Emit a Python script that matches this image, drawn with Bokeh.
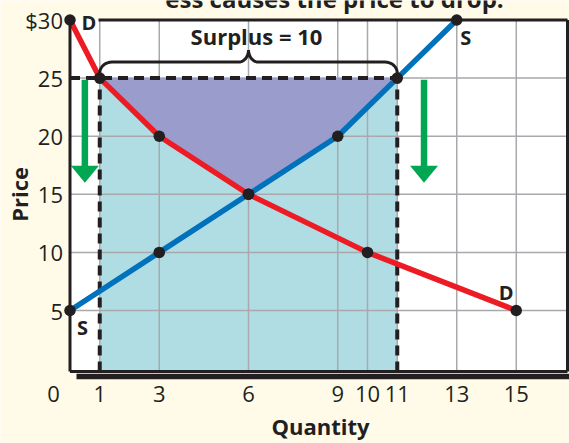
import numpy as np
from bokeh.plotting import figure
from bokeh.models import FixedTicker, Label, Range1d
from bokeh.embed import file_html
from bokeh.resources import INLINE

# ---------------- data ----------------
demand_q = [0, 1, 3, 6, 10, 15]
demand_p = [30, 25, 20, 15, 10, 5]
supply_q = [0, 3, 6, 9, 11, 13]
supply_p = [5, 10, 15, 20, 25, 30]
price_floor = 25
eq_q, eq_p = 6, 15
qd_floor = 1
qs_floor = 11
surplus = qs_floor - qd_floor
x_ticks = [1, 3, 6, 9, 10, 11, 13, 15]
y_ticks = [5, 10, 15, 20, 25, 30]
y_tick_overrides = {30: "$30"}
arrow_x = [0.5, 11.9]
arrow_top = 24.85
arrow_tip = 16
title_text = "ess causes the price to drop."

# ---------------- layout / style ----------------
W, H = 569, 443
PX_X, PX_Y = 29.75, 11.62          # pixels per unit
X0_PX, Y30_PX = 69.5, 19.5         # where q=0 and p=30 sit on the canvas
x_start = -X0_PX / PX_X
x_end = x_start + W / PX_X
y_end = 30 + Y30_PX / PX_Y
y_start = y_end - H / PX_Y
x_right = (567 - X0_PX) / PX_X     # right border of the plot box
y_white_bottom = 30 - 351.5 / PX_Y # bottom border of the plot box
axis_y = 30 - 359.5 / PX_Y

FONT = "Open Sans"
CREAM = "#fffbe8"
INK = "#231f20"
RED = "#ed1c24"
BLUE = "#0072bc"
GREEN = "#00a651"
LIGHTBLUE = "#b0dde4"
PURPLE = "#9a9dcc"
GRID = "#a7a9ac"

p = figure(width=W, height=H, output_backend="svg", toolbar_location=None,
           x_range=Range1d(x_start, x_end), y_range=Range1d(y_start, y_end),
           min_border=0, min_border_left=0, min_border_right=0,
           min_border_top=0, min_border_bottom=0)
p.background_fill_color = CREAM
p.border_fill_color = CREAM
p.outline_line_color = None
p.xgrid.visible = False
p.ygrid.visible = False

for ax, ticks in ((p.xaxis, x_ticks), (p.yaxis, y_ticks)):
    ax.ticker = FixedTicker(ticks=ticks)
    ax.axis_line_color = None
    ax.major_tick_line_color = None
    ax.minor_tick_line_color = None
    ax.major_tick_out = 0
    ax.major_tick_in = 0
    ax.minor_tick_out = 0
    ax.major_label_text_font = FONT
    ax.major_label_text_font_size = "22px"
    ax.major_label_text_color = INK
p.xaxis.fixed_location = axis_y
p.yaxis.fixed_location = 0
p.xaxis.major_label_standoff = 6
p.yaxis.major_label_standoff = 7
p.yaxis.major_label_overrides = y_tick_overrides

# plot area
p.quad(left=0, right=x_right, bottom=y_white_bottom, top=30,
       fill_color="white", line_color=None)
# shadow under the plot area
p.quad(left=(76 - X0_PX) / PX_X, right=x_end, bottom=30 - 359.2 / PX_Y,
       top=30 - 353.8 / PX_Y, fill_color=INK, line_color=None)

# light blue rectangle
p.quad(left=qd_floor, right=qs_floor, bottom=y_white_bottom, top=price_floor,
       fill_color=LIGHTBLUE, line_color=None)

# grid
p.segment(x0=x_ticks, y0=[y_white_bottom] * len(x_ticks), x1=x_ticks,
          y1=[30] * len(x_ticks), line_color=GRID, line_width=1.5)
hy = [t for t in y_ticks if t < 30]
p.segment(x0=[0] * len(hy), y0=hy, x1=[x_right] * len(hy), y1=hy,
          line_color=GRID, line_width=1.5)

# surplus area (purple)
s_pts = [(q, pr) for q, pr in zip(supply_q, supply_p) if eq_p <= pr <= price_floor]
d_pts = [(q, pr) for q, pr in zip(demand_q, demand_p) if eq_p <= pr <= price_floor]
poly = sorted(s_pts, key=lambda t: -t[1]) + sorted(d_pts, key=lambda t: t[1])[1:]
p.patch([a for a, b in poly], [b for a, b in poly], fill_color=PURPLE,
        line_color=None)

# dashed lines
p.line([0, qs_floor], [price_floor, price_floor], line_color=INK, line_width=4,
       line_dash="10 6")
for q in (qd_floor, qs_floor):
    p.line([q, q], [y_white_bottom, price_floor], line_color=INK, line_width=4,
           line_dash="10 6")

# curves
p.line(demand_q, demand_p, line_color=RED, line_width=5.5)
p.line(supply_q, supply_p, line_color=BLUE, line_width=5.5)
p.scatter(demand_q, demand_p, size=11.5, fill_color=INK, line_color=None)
p.scatter(supply_q, supply_p, size=11.5, fill_color=INK, line_color=None)

# arrows
head_w, head_l = 14 / PX_X, 17 / PX_Y
p.segment(x0=arrow_x, y0=[arrow_top] * 2, x1=arrow_x,
          y1=[arrow_tip + head_l * 0.9] * 2, line_color=GREEN, line_width=6.5)
p.patches([[ax - head_w, ax + head_w, ax] for ax in arrow_x],
          [[arrow_tip + head_l, arrow_tip + head_l, arrow_tip] for ax in arrow_x],
          fill_color=GREEN, line_color=None)

# brace
def arc(cx, cy, rx, ry, t0, t1, n=12):
    t = np.linspace(t0, t1, n)
    return list(cx + rx * np.cos(t)), list(cy + ry * np.sin(t))

x0, x1 = qd_floor, qs_floor
xc = (x0 + x1) / 2
yb = price_floor + 5 / PX_Y
yh = price_floor + 16 / PX_Y
rx, ry = 12 / PX_X, 11 / PX_Y
r2x, r2y = 10 / PX_X, 12 / PX_Y
bx, by = [x0], [yb]
for seg in (arc(x0 + rx, yh - ry, rx, ry, np.pi, np.pi / 2),
            arc(xc - r2x, yh + r2y, r2x, r2y, -np.pi / 2, 0),
            arc(xc + r2x, yh + r2y, r2x, r2y, np.pi, 1.5 * np.pi),
            arc(x1 - rx, yh - ry, rx, ry, np.pi / 2, 0)):
    bx += seg[0]
    by += seg[1]
bx.append(x1)
by.append(yb)
p.line(bx, by, line_color=INK, line_width=3)

# borders of the plot box
top_start = (98 - X0_PX) / PX_X
p.segment(x0=[0, x_right, 0, top_start],
          y0=[y_white_bottom, y_white_bottom, y_white_bottom, 30],
          x1=[0, x_right, x_right, x_right],
          y1=[30, 30, y_white_bottom, 30],
          line_color=INK, line_width=3)

def lab(text, x, y, xo=0, yo=0, size="20px", bold=True, align="center",
        baseline="middle", angle=0):
    p.add_layout(Label(x=x, y=y, x_offset=xo, y_offset=yo, text=text,
                       text_font=FONT, text_font_size=size,
                       text_font_style="bold" if bold else "normal",
                       text_color=INK, text_align=align, text_baseline=baseline,
                       angle=angle))

lab("D", demand_q[0], demand_p[0], 19, -2.5)
lab("S", supply_q[-1], supply_p[-1], 9, -17.5)
lab("D", demand_q[-1], demand_p[-1], -10, 18)
lab("S", supply_q[0], supply_p[0], 12.5, -16.5)
lab(f"Surplus = {surplus}", xc, price_floor, 8, 42, size="22px")
lab("0", 0, axis_y, -16.5, -6, size="22px", bold=False, baseline="top")
lab("Quantity", (320 - X0_PX) / PX_X, axis_y, 0, -46, size="22px")
lab("Price", (18.5 - X0_PX) / PX_X, 15, 0, 0, size="22px", angle=np.pi / 2)
lab(title_text, (334 - X0_PX) / PX_X, 30, 0, 22, size="24px")

open("out.html", "w").write(file_html(p, INLINE))
